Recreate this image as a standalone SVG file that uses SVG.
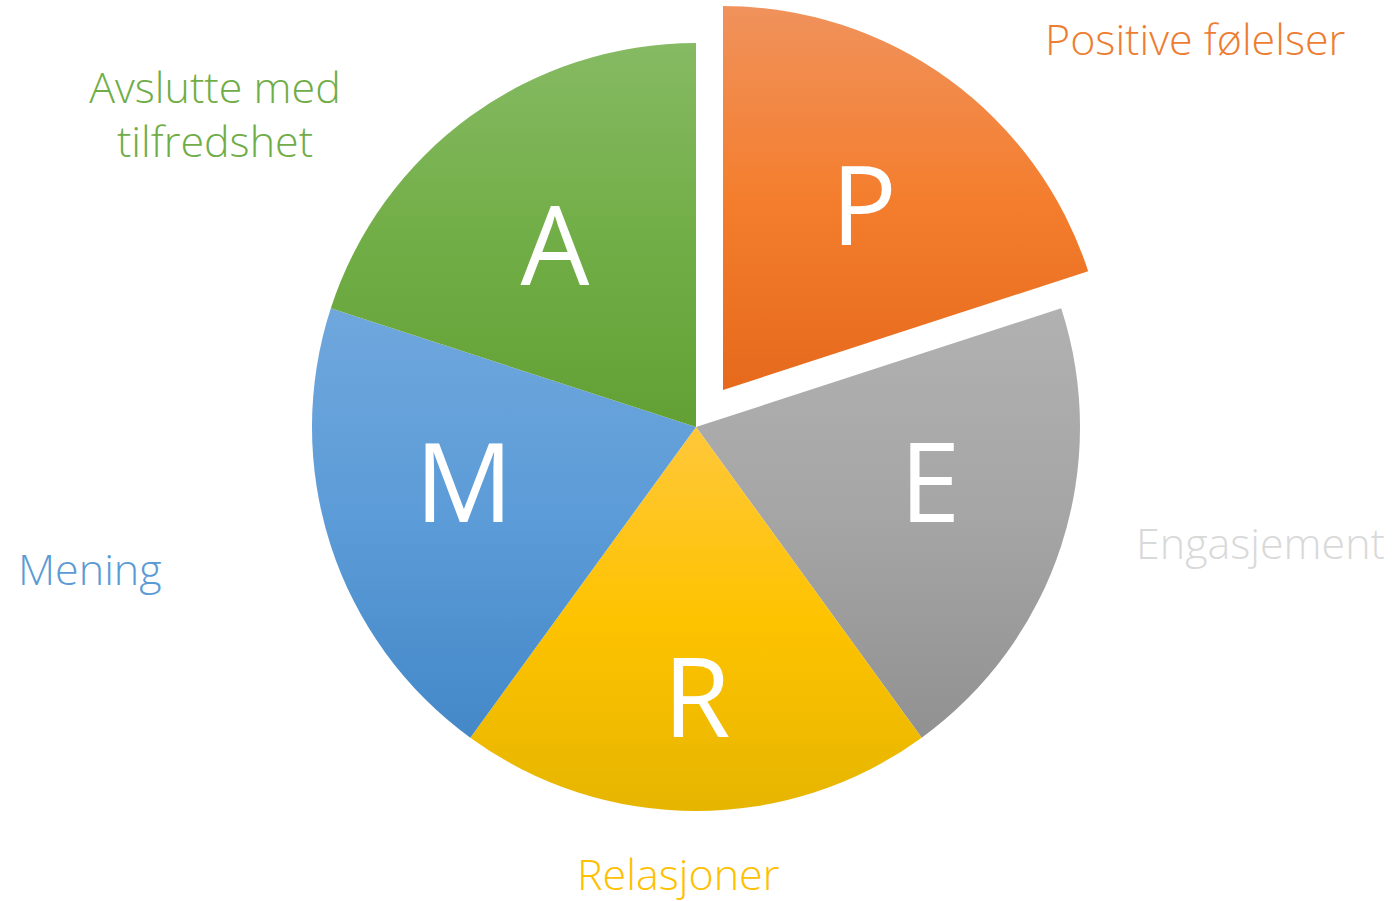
<svg xmlns="http://www.w3.org/2000/svg" width="1394" height="901" viewBox="0 0 1394 901">
<defs>
<linearGradient id="gP" x1="0" y1="0" x2="0" y2="1"><stop offset="0" stop-color="#F0925C"/><stop offset="0.5" stop-color="#F47E2E"/><stop offset="1" stop-color="#E6691C"/></linearGradient>
<linearGradient id="gE" x1="0" y1="0" x2="0" y2="1"><stop offset="0" stop-color="#B1B1B1"/><stop offset="0.5" stop-color="#A5A5A5"/><stop offset="1" stop-color="#919191"/></linearGradient>
<linearGradient id="gR" x1="0" y1="0" x2="0" y2="1"><stop offset="0" stop-color="#FFC73A"/><stop offset="0.5" stop-color="#FEC300"/><stop offset="1" stop-color="#E6B500"/></linearGradient>
<linearGradient id="gM" x1="0" y1="0" x2="0" y2="1"><stop offset="0" stop-color="#6FA7DD"/><stop offset="0.5" stop-color="#5B9BD7"/><stop offset="1" stop-color="#4488C8"/></linearGradient>
<linearGradient id="gA" x1="0" y1="0" x2="0" y2="1"><stop offset="0" stop-color="#86BA63"/><stop offset="0.5" stop-color="#72AE47"/><stop offset="1" stop-color="#62A034"/></linearGradient>
</defs>
<style>
.letter{font-family:"Open Sans","Liberation Sans",sans-serif;font-size:109px;fill:#FFFFFF;text-anchor:middle}
.label{font-family:"Open Sans","Liberation Sans",sans-serif;font-size:43px;font-weight:300}
</style>
<rect width="1394" height="901" fill="#FFFFFF"/>
<g id="slice-P">
<path d="M723,390 L723,6 A384,384 0 0 1 1088.2,271.3 Z" fill="url(#gP)"/>
<text class="letter" x="864" y="245">P</text>
</g>
<g id="slice-E">
<path d="M696,427 L1061.2,308.3 A384,384 0 0 1 921.7,737.7 Z" fill="url(#gE)"/>
<text class="letter" x="930" y="522">E</text>
</g>
<g id="slice-R">
<path d="M696,427 L921.7,737.7 A384,384 0 0 1 470.3,737.7 Z" fill="url(#gR)"/>
<text class="letter" x="697" y="737">R</text>
</g>
<g id="slice-M">
<path d="M696,427 L470.3,737.7 A384,384 0 0 1 330.8,308.3 Z" fill="url(#gM)"/>
<text class="letter" x="464" y="522">M</text>
</g>
<g id="slice-A">
<path d="M696,427 L330.8,308.3 A384,384 0 0 1 696,43 Z" fill="url(#gA)"/>
<text class="letter" x="555" y="285">A</text>
</g>
<g id="labels">
<text class="label" x="1045" y="55" fill="#ED7D31">Positive følelser</text>
<text class="label" x="215" y="103" fill="#70AD47" text-anchor="middle">Avslutte med</text>
<text class="label" x="215" y="157" fill="#70AD47" text-anchor="middle">tilfredshet</text>
<text class="label" x="1136" y="559" fill="#D9D9D9">Engasjement</text>
<text class="label" x="577" y="890" fill="#FFC000">Relasjoner</text>
<text class="label" x="18" y="585" fill="#5B9BD5">Mening</text>
</g>
<g id="connectors"/>
</svg>
